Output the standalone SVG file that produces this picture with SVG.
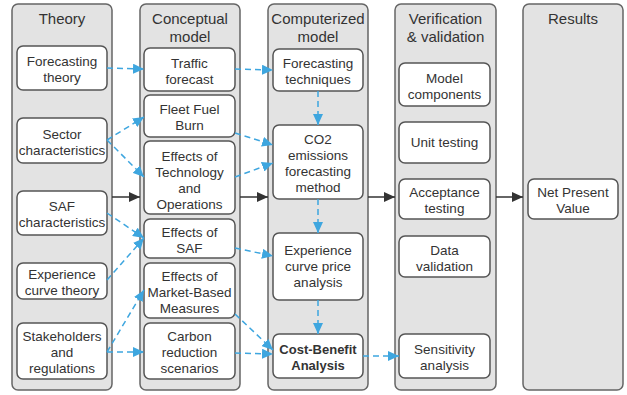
<svg xmlns="http://www.w3.org/2000/svg" width="627" height="395" viewBox="0 0 627 395">
<defs>
<style>
.col{fill:#e3e3e3;stroke:#666;stroke-width:1.5}
.box{fill:#fff;stroke:#555;stroke-width:1.5}
text{font-family:"Liberation Sans",Arial,sans-serif;fill:#333;text-anchor:middle}
.h{font-size:15px}
.t{font-size:13.5px}
.b{font-weight:bold;font-size:13px}
.blue{stroke:#3ea6df;stroke-width:1.5;stroke-dasharray:6 4;fill:none}
.blk{stroke:#333;stroke-width:1.5;fill:none}
</style>
<marker id="ab" markerUnits="userSpaceOnUse" markerWidth="12" markerHeight="10" refX="11" refY="5" orient="auto"><path d="M0,0 L11,5 L0,10 z" fill="#3ea6df"/></marker>
<marker id="ak" markerUnits="userSpaceOnUse" markerWidth="12" markerHeight="10" refX="11" refY="5" orient="auto"><path d="M0,0 L11,5 L0,10 z" fill="#333"/></marker>
</defs>
<rect width="627" height="395" fill="#fff"/>
<g id="col-theory"><rect class="col" x="12" y="4" width="100" height="386" rx="6"/><text class="h" x="62" y="24">Theory</text></g>
<g id="col-conceptual"><rect class="col" x="140" y="4" width="100" height="386" rx="6"/><text class="h" x="190" y="24">Conceptual</text><text class="h" x="190" y="42">model</text></g>
<g id="col-computerized"><rect class="col" x="268" y="4" width="100" height="386" rx="6"/><text class="h" x="318" y="24">Computerized</text><text class="h" x="318" y="42">model</text></g>
<g id="col-verification"><rect class="col" x="395" y="4" width="101" height="386" rx="6"/><text class="h" x="445.5" y="24">Verification</text><text class="h" x="445.5" y="42">&amp; validation</text></g>
<g id="col-results"><rect class="col" x="523" y="4" width="100" height="386" rx="6"/><text class="h" x="573" y="24">Results</text></g>

<g id="forecasting-theory"><rect class="box" x="17" y="46" width="90" height="44" rx="6"/><text class="t" x="62" y="66">Forecasting</text><text class="t" x="62" y="82">theory</text></g>
<g id="sector-characteristics"><rect class="box" x="17" y="118" width="90" height="45" rx="6"/><text class="t" x="62" y="138.5">Sector</text><text class="t" x="62" y="154.5">characteristics</text></g>
<g id="saf-characteristics"><rect class="box" x="17" y="191" width="90" height="44" rx="6"/><text class="t" x="62" y="211">SAF</text><text class="t" x="62" y="227">characteristics</text></g>
<g id="experience-curve-theory"><rect class="box" x="17" y="263" width="90" height="36" rx="6"/><text class="t" x="62" y="279">Experience</text><text class="t" x="62" y="295">curve theory</text></g>
<g id="stakeholders"><rect class="box" x="17" y="323" width="90" height="56" rx="6"/><text class="t" x="62" y="341">Stakeholders</text><text class="t" x="62" y="357">and</text><text class="t" x="62" y="373">regulations</text></g>

<g id="traffic-forecast"><rect class="box" x="144" y="48" width="91" height="43" rx="6"/><text class="t" x="189.5" y="67.5">Traffic</text><text class="t" x="189.5" y="83.5">forecast</text></g>
<g id="fleet-fuel-burn"><rect class="box" x="144" y="95" width="91" height="42" rx="6"/><text class="t" x="189.5" y="114">Fleet Fuel</text><text class="t" x="189.5" y="130">Burn</text></g>
<g id="effects-technology"><rect class="box" x="144" y="141" width="91" height="73" rx="6"/><text class="t" x="189.5" y="160.5">Effects of</text><text class="t" x="189.5" y="176.5">Technology</text><text class="t" x="189.5" y="192.5">and</text><text class="t" x="189.5" y="208.5">Operations</text></g>
<g id="effects-saf"><rect class="box" x="144" y="219" width="91" height="39" rx="6"/><text class="t" x="189.5" y="236.5">Effects of</text><text class="t" x="189.5" y="252.5">SAF</text></g>
<g id="effects-mbm"><rect class="box" x="144" y="263" width="91" height="55" rx="6"/><text class="t" x="189.5" y="280.5">Effects of</text><text class="t" x="189.5" y="296.5">Market-Based</text><text class="t" x="189.5" y="312.5">Measures</text></g>
<g id="carbon-reduction"><rect class="box" x="144" y="323" width="91" height="56" rx="6"/><text class="t" x="189.5" y="341">Carbon</text><text class="t" x="189.5" y="357">reduction</text><text class="t" x="189.5" y="373">scenarios</text></g>

<g id="forecasting-techniques"><rect class="box" x="273" y="49" width="90" height="42" rx="6"/><text class="t" x="318" y="68">Forecasting</text><text class="t" x="318" y="84">techniques</text></g>
<g id="co2-method"><rect class="box" x="273" y="125" width="90" height="74" rx="6"/><text class="t" x="318" y="144">CO2</text><text class="t" x="318" y="160">emissions</text><text class="t" x="318" y="176">forecasting</text><text class="t" x="318" y="192">method</text></g>
<g id="experience-curve-price"><rect class="box" x="273" y="233" width="90" height="67" rx="6"/><text class="t" x="318" y="254.5">Experience</text><text class="t" x="318" y="270.5">curve price</text><text class="t" x="318" y="286.5">analysis</text></g>
<g id="cost-benefit"><rect class="box" x="273" y="334" width="90" height="44" rx="6"/><text class="t b" x="318" y="354">Cost-Benefit</text><text class="t b" x="318" y="370">Analysis</text></g>

<g id="model-components"><rect class="box" x="399" y="63" width="91" height="43" rx="6"/><text class="t" x="444.5" y="82.5">Model</text><text class="t" x="444.5" y="98.5">components</text></g>
<g id="unit-testing"><rect class="box" x="399" y="122" width="91" height="41" rx="6"/><text class="t" x="444.5" y="147">Unit testing</text></g>
<g id="acceptance-testing"><rect class="box" x="399" y="179" width="91" height="40" rx="6"/><text class="t" x="444.5" y="197">Acceptance</text><text class="t" x="444.5" y="213">testing</text></g>
<g id="data-validation"><rect class="box" x="399" y="236" width="91" height="41" rx="6"/><text class="t" x="444.5" y="254.5">Data</text><text class="t" x="444.5" y="270.5">validation</text></g>
<g id="sensitivity-analysis"><rect class="box" x="399" y="334" width="91" height="44" rx="6"/><text class="t" x="444.5" y="354">Sensitivity</text><text class="t" x="444.5" y="370">analysis</text></g>

<g id="net-present-value"><rect class="box" x="528" y="179" width="90" height="40" rx="6"/><text class="t" x="573" y="197">Net Present</text><text class="t" x="573" y="213">Value</text></g>

<g id="connectors">
<line class="blk" x1="112" y1="197" x2="140" y2="197" marker-end="url(#ak)"/>
<line class="blk" x1="240" y1="197" x2="268" y2="197" marker-end="url(#ak)"/>
<line class="blk" x1="368" y1="197" x2="395" y2="197" marker-end="url(#ak)"/>
<line class="blk" x1="496" y1="197" x2="523" y2="197" marker-end="url(#ak)"/>
<line class="blue" x1="107" y1="68" x2="144" y2="69" marker-end="url(#ab)"/>
<line class="blue" x1="235" y1="69" x2="273" y2="70" marker-end="url(#ab)"/>
<line class="blue" x1="318" y1="91" x2="318" y2="125" marker-end="url(#ab)"/>
<line class="blue" x1="107" y1="140" x2="144" y2="117" marker-end="url(#ab)"/>
<line class="blue" x1="107" y1="140" x2="144" y2="177" marker-end="url(#ab)"/>
<line class="blue" x1="235" y1="133" x2="273" y2="145" marker-end="url(#ab)"/>
<line class="blue" x1="235" y1="177" x2="273" y2="163" marker-end="url(#ab)"/>
<line class="blue" x1="107" y1="213" x2="144" y2="238" marker-end="url(#ab)"/>
<line class="blue" x1="107" y1="280" x2="144" y2="238" marker-end="url(#ab)"/>
<line class="blue" x1="107" y1="352" x2="144" y2="290" marker-end="url(#ab)"/>
<line class="blue" x1="107" y1="352" x2="144" y2="352" marker-end="url(#ab)"/>
<line class="blue" x1="235" y1="248" x2="273" y2="256" marker-end="url(#ab)"/>
<line class="blue" x1="235" y1="314" x2="273" y2="350" marker-end="url(#ab)"/>
<line class="blue" x1="235" y1="353" x2="273" y2="354" marker-end="url(#ab)"/>
<line class="blue" x1="318" y1="199" x2="318" y2="233" marker-end="url(#ab)"/>
<line class="blue" x1="318" y1="300" x2="318" y2="334" marker-end="url(#ab)"/>
<line class="blue" x1="363" y1="356" x2="399" y2="356" marker-end="url(#ab)"/>
</g>
</svg>
